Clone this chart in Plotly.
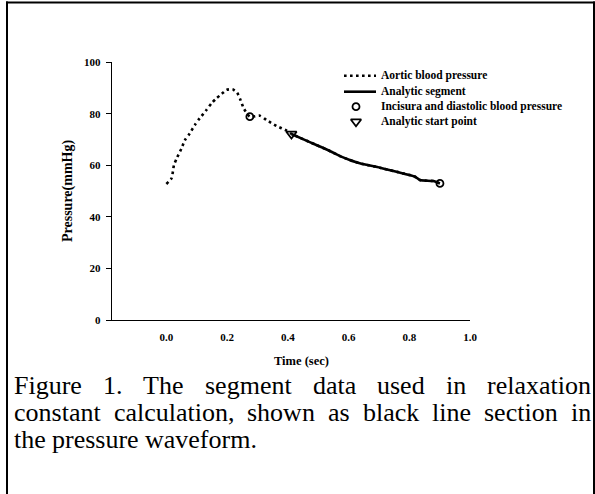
import plotly.graph_objects as go

# ---- data ----
aortic_t = [0.000, 0.017, 0.025, 0.034, 0.050, 0.061, 0.077, 0.094, 0.110, 0.132, 0.149,
            0.165, 0.182, 0.198, 0.218, 0.233, 0.244, 0.255, 0.275, 0.308, 0.330, 0.363,
            0.396, 0.412, 0.450, 0.494, 0.540, 0.572, 0.604, 0.637, 0.703, 0.758, 0.819,
            0.835, 0.879, 0.901]
aortic_p = [52.8, 55.0, 60.1, 62.7, 66.6, 69.8, 72.4, 75.7, 78.3, 81.5, 84.1,
            86.0, 87.7, 89.3, 89.5, 88.2, 85.4, 82.1, 78.9, 79.3, 77.6, 75.3,
            73.5, 72.2, 70.2, 67.9, 65.5, 63.6, 62.1, 60.8, 59.1, 57.5, 55.6,
            54.3, 53.9, 53.0]
segment_t = [0.412, 0.450, 0.494, 0.540, 0.572, 0.604, 0.637, 0.703, 0.758, 0.819, 0.835, 0.879, 0.901]
segment_p = [72.2, 70.2, 67.9, 65.5, 63.6, 62.1, 60.8, 59.1, 57.5, 55.6, 54.3, 53.9, 53.0]
incisura_t = [0.275, 0.901]
incisura_p = [78.9, 53.0]
start_t = [0.412]
start_p = [72.2]

x_ticks = [0.0, 0.2, 0.4, 0.6, 0.8, 1.0]
x_tick_labels = ["0.0", "0.2", "0.4", "0.6", "0.8", "1.0"]
y_ticks = [0, 20, 40, 60, 80, 100]
y_tick_labels = ["0", "20", "40", "60", "80", "100"]

legend_names = ["Aortic blood pressure", "Analytic segment",
                "Incisura and diastolic blood pressure", "Analytic start point"]
x_title = "Time (sec)"
y_title = "Pressure(mmHg)"
caption_lines = ["Figure 1. The segment data used in relaxation",
                 "constant calculation, shown as black line section in",
                 "the pressure waveform."]

W, H = 595, 494
SERIF = "Liberation Serif"

# plot area in pixels
PL, PR, PT, PB = 111.7, 470.0, 62.3, 320.0

fig = go.Figure()

dot_style = "2.6px,3.4px"
fig.add_trace(go.Scatter(x=aortic_t, y=aortic_p, mode="lines", line=dict(color="black", width=2.6, dash=dot_style, shape="spline", smoothing=0.6),
                         xaxis="x", yaxis="y", showlegend=False, hoverinfo="skip"))
fig.add_trace(go.Scatter(x=segment_t, y=segment_p, mode="lines", line=dict(color="black", width=2.6, shape="spline", smoothing=0.6),
                         xaxis="x", yaxis="y", showlegend=False, hoverinfo="skip"))
fig.add_trace(go.Scatter(x=incisura_t, y=incisura_p, mode="markers",
                         marker=dict(symbol="circle-open", size=7, color="black", line=dict(width=1.8)),
                         xaxis="x", yaxis="y", showlegend=False, hoverinfo="skip"))
fig.add_trace(go.Scatter(x=start_t, y=start_p, mode="markers",
                         marker=dict(symbol="triangle-down-open", size=9, color="black", line=dict(width=1.8)),
                         xaxis="x", yaxis="y", showlegend=False, hoverinfo="skip"))

# ---- manual legend in pixel overlay axes ----
leg_rows = [75.7, 91.7, 106.7, 121.7]
lx0, lx1, lmx, ltx = 344, 376, 356, 379
fig.add_trace(go.Scatter(x=[lx0, lx1], y=[leg_rows[0]] * 2, mode="lines",
                         line=dict(color="black", width=2.4, dash=dot_style), xaxis="x2", yaxis="y2",
                         showlegend=False, hoverinfo="skip"))
fig.add_trace(go.Scatter(x=[lx0, lx1], y=[leg_rows[1]] * 2, mode="lines",
                         line=dict(color="black", width=2.6), xaxis="x2", yaxis="y2",
                         showlegend=False, hoverinfo="skip"))
fig.add_trace(go.Scatter(x=[lmx], y=[leg_rows[2]], mode="markers",
                         marker=dict(symbol="circle-open", size=7, color="black", line=dict(width=1.8)),
                         xaxis="x2", yaxis="y2", showlegend=False, hoverinfo="skip"))
fig.add_trace(go.Scatter(x=[lmx], y=[leg_rows[3]], mode="markers",
                         marker=dict(symbol="triangle-down-open", size=9, color="black", line=dict(width=1.8)),
                         xaxis="x2", yaxis="y2", showlegend=False, hoverinfo="skip"))

annotations = []
for name, yy in zip(legend_names, leg_rows):
    annotations.append(dict(x=ltx, y=yy, xref="x2", yref="y2", text=name, showarrow=False,
                            xanchor="left", yanchor="middle",
                            font=dict(family=SERIF, size=11.5, color="black", weight="bold")))

# axis titles
annotations.append(dict(x=(PL + PR) / 2 + 11, y=361, xref="x2", yref="y2", text=x_title, showarrow=False,
                        xanchor="center", yanchor="middle",
                        font=dict(family=SERIF, size=12.5, color="black", weight="bold")))
annotations.append(dict(x=68, y=191, xref="x2", yref="y2", text=y_title, showarrow=False,
                        textangle=-90, xanchor="center", yanchor="middle",
                        font=dict(family=SERIF, size=14, color="black", weight="bold")))

# ---- caption, justified like the source ----
CW = {' ': 250, 'F': 556, 'i': 278, 'g': 500, 'u': 500, 'r': 333, 'e': 444, '1': 500, '.': 250,
      'T': 611, 'h': 500, 's': 389, 'm': 778, 'n': 500, 't': 278, 'd': 500, 'a': 444, 'l': 278,
      'x': 500, 'o': 500, 'c': 444, ',': 250, 'w': 722, 'b': 500, 'k': 500, 'p': 500, 'v': 500,
      'f': 333}
CAP_SIZE = 26
def wlen(word):
    return sum(CW.get(ch, 500) for ch in word) / 1000.0 * CAP_SIZE

cap_left, cap_right = 12, 589
cap_y = [385, 412, 439]
for i, line in enumerate(caption_lines):
    words = line.split(" ")
    widths = [wlen(w) for w in words]
    if i < len(caption_lines) - 1:
        gap = (cap_right - cap_left - sum(widths)) / (len(words) - 1)
    else:
        gap = CW[' '] / 1000.0 * CAP_SIZE
    xpos = cap_left
    for w, wd in zip(words, widths):
        annotations.append(dict(x=xpos, y=cap_y[i], xref="x2", yref="y2", text=w, showarrow=False,
                                xanchor="left", yanchor="middle",
                                font=dict(family=SERIF, size=CAP_SIZE, color="black")))
        xpos += wd + gap

# ---- border of the figure frame ----
shapes = [
    dict(type="line", xref="x2", yref="y2", x0=7, x1=7, y0=1.5, y1=500, line=dict(color="black", width=2)),
    dict(type="line", xref="x2", yref="y2", x0=6, x1=600, y0=2.5, y1=2.5, line=dict(color="black", width=2)),
    dict(type="line", xref="x2", yref="y2", x0=594, x1=594, y0=1.5, y1=500, line=dict(color="black", width=2)),
]

fig.update_layout(
    width=W, height=H, autosize=False,
    margin=dict(l=0, r=0, t=0, b=0, pad=0),
    paper_bgcolor="white", plot_bgcolor="rgba(0,0,0,0)",
    showlegend=False,
    xaxis=dict(domain=[PL / W, PR / W], range=[-0.18, 1.0], tickvals=x_ticks, ticktext=x_tick_labels,
               showgrid=False, zeroline=False, showline=True, linecolor="black", linewidth=1,
               ticks="", ticklabelstandoff=7, anchor="y", automargin=False,
               tickfont=dict(family=SERIF, size=11, color="black", weight="bold")),
    yaxis=dict(domain=[1 - PB / H, 1 - PT / H], range=[0, 100], tickvals=y_ticks, ticktext=y_tick_labels,
               showgrid=False, zeroline=False, showline=True, linecolor="black", linewidth=1,
               ticks="outside", ticklen=5, tickwidth=1, tickcolor="black", ticklabelstandoff=3,
               anchor="x", automargin=False,
               tickfont=dict(family=SERIF, size=11, color="black", weight="bold")),
    xaxis2=dict(domain=[0, 1], range=[0, W], visible=False, anchor="y2", fixedrange=True),
    yaxis2=dict(domain=[0, 1], range=[H, 0], visible=False, anchor="x2", fixedrange=True),
    annotations=annotations,
    shapes=shapes,
)

fig.write_html("out.html")
